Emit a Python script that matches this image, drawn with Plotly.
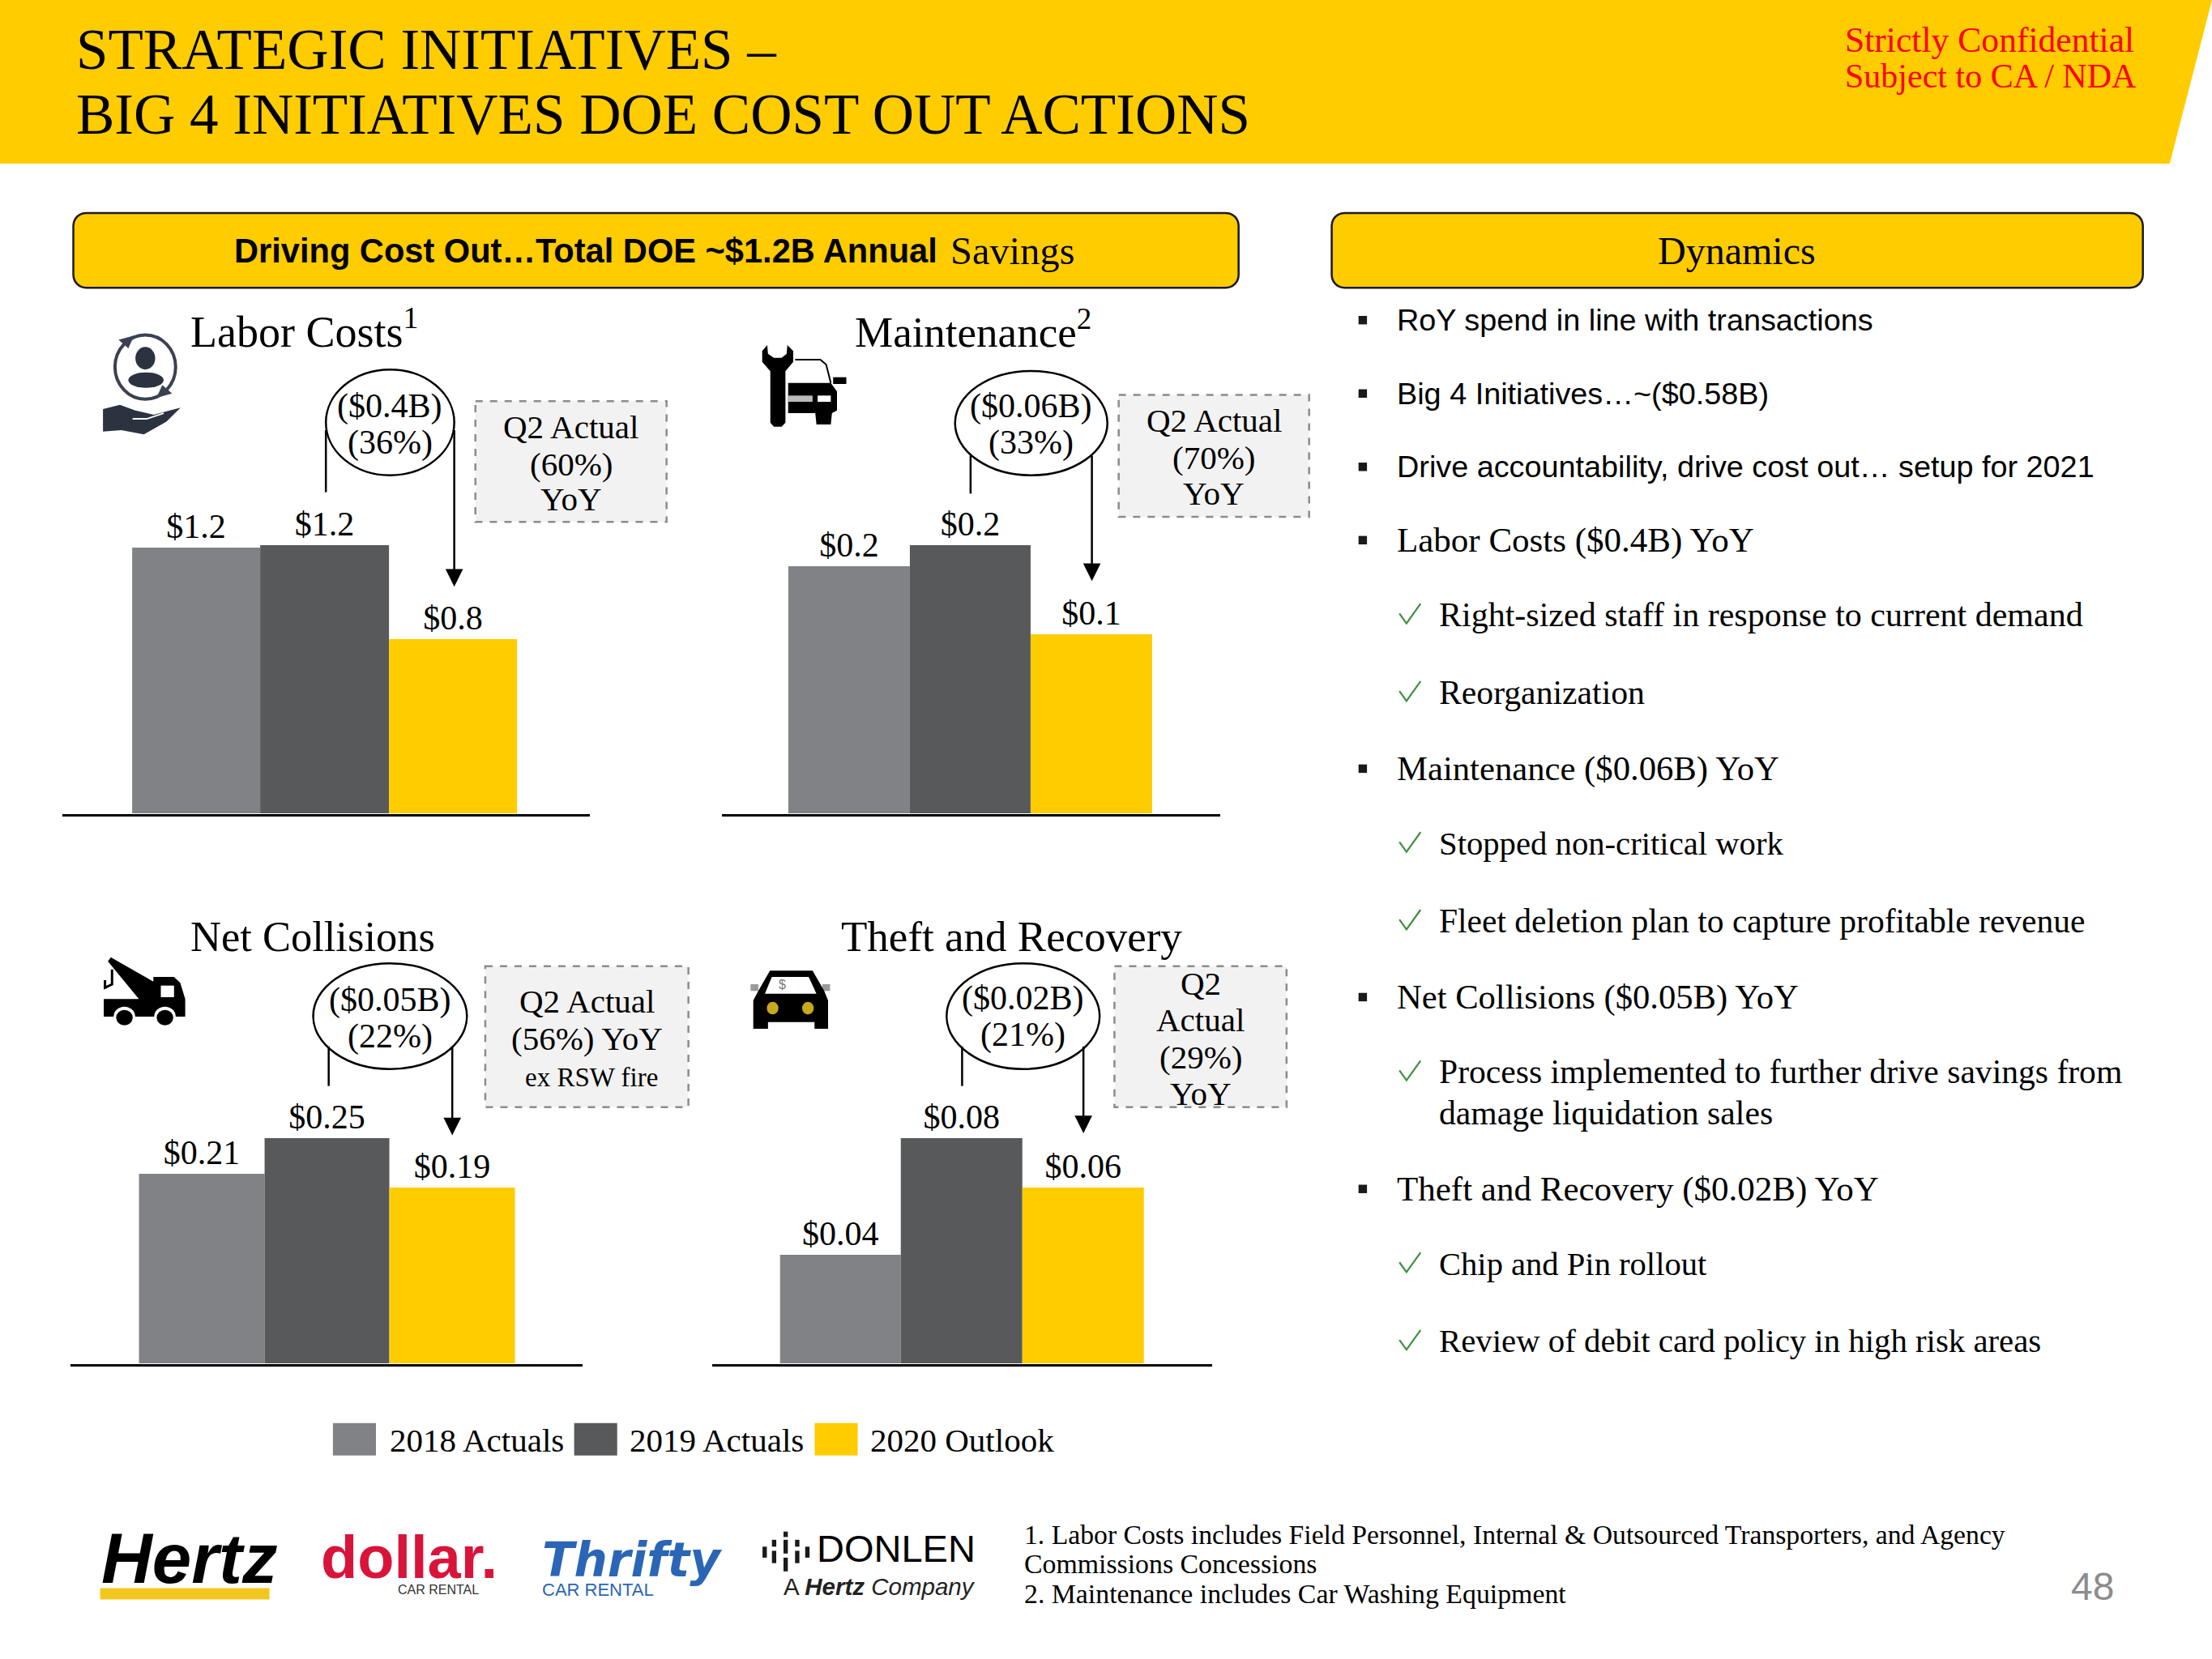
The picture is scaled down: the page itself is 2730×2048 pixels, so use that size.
import math
import plotly.graph_objects as go

W, H = 2730, 2048
S = W / 1568
SERIF = "Liberation Serif"
SANS = "Liberation Sans"
YEL = "#FFCC00"

series_names = ["2018 Actuals", "2019 Actuals", "2020 Outlook"]
series_colors = ["#818285", "#58595B", "#FFCC00"]
labor_values = [1.19, 1.2, 0.78]
maintenance_values = [0.175, 0.19, 0.127]
collision_values = [0.21, 0.25, 0.195]
theft_values = [0.0385, 0.08, 0.0625]
labor_labels = ["$1.2", "$1.2", "$0.8"]
maintenance_labels = ["$0.2", "$0.2", "$0.1"]
collision_labels = ["$0.21", "$0.25", "$0.19"]
theft_labels = ["$0.04", "$0.08", "$0.06"]

def X(v): return v * S / W
def Y(v): return 1 - v * S / H

# panel geometry in view units: axis left/right, first bar left, bar width, baseline, px per unit
panels = [
    (labor_values, labor_labels, 44, 418, 94, 91, 577, 190 / 1.2),
    (maintenance_values, maintenance_labels, 512, 865, 559, 86, 577, 190 / 0.19),
    (collision_values, collision_labels, 50, 413, 99, 88.7, 967, 160 / 0.25),
    (theft_values, theft_labels, 505, 859, 553, 86, 967, 160 / 0.08),
]

fig = go.Figure()
shapes, anns = [], []

def rect(x0, y0, x1, y1, fill, line=None, lw=0, dash=None, layer="below"):
    shapes.append(dict(type="rect", xref="paper", yref="paper", x0=X(x0), x1=X(x1), y0=Y(y0), y1=Y(y1),
                       fillcolor=fill, line=dict(color=line or fill, width=lw, dash=dash), layer=layer))

def poly(pts, fill, close=True, line=None, lw=0):
    d = "M" + " L".join(f"{X(a):.5f},{Y(b):.5f}" for a, b in pts) + (" Z" if close else "")
    shapes.append(dict(type="path", xref="paper", yref="paper", path=d, fillcolor=fill if close else "rgba(0,0,0,0)",
                       line=dict(color=line or fill, width=lw), layer="above"))

def ell(x0, y0, x1, y1, fill="rgba(0,0,0,0)", line="#000000", lw=2.5):
    shapes.append(dict(type="circle", xref="paper", yref="paper", x0=X(x0), x1=X(x1), y0=Y(y0), y1=Y(y1),
                       fillcolor=fill, line=dict(color=line, width=lw), layer="above"))

def seg(x0, y0, x1, y1, color="#000000", lw=2.5):
    shapes.append(dict(type="line", xref="paper", yref="paper", x0=X(x0), x1=X(x1), y0=Y(y0), y1=Y(y1),
                       line=dict(color=color, width=lw), layer="above"))

def txt(x, y, s, size, anchor="left", font=SERIF, color="#000000"):
    anns.append(dict(xref="paper", yref="paper", x=X(x), y=Y(y), text=s, showarrow=False, xanchor=anchor,
                     yanchor="middle", align=anchor if anchor != "middle" else "center",
                     font=dict(family=font, size=size, color=color), borderpad=0, borderwidth=0))

def lines(x, ys, strs, size):
    for y, s in zip(ys, strs):
        txt(x, y, s, size, "center")

def round_rect(x0, y0, x1, y1, r, fill, line):
    n = 6
    pts = []
    for cx, cy, a0 in [(x1 - r, y0 + r, -90), (x1 - r, y1 - r, 0), (x0 + r, y1 - r, 90), (x0 + r, y0 + r, 180)]:
        for i in range(n + 1):
            a = math.radians(a0 + 90 * i / n)
            pts.append((cx + r * math.cos(a), cy + r * math.sin(a)))
    d = "M" + " L".join(f"{X(a):.5f},{Y(b):.5f}" for a, b in pts) + " Z"
    shapes.append(dict(type="path", xref="paper", yref="paper", path=d, fillcolor=fill,
                       line=dict(color=line, width=2.5), layer="below"))

# bars
for i, (vals, labs, ax0, ax1, b0, bw, base, ppu) in enumerate(panels):
    n = "" if i == 0 else str(i + 1)
    top = max(vals) * 1.3
    dom_y = [1 - base * S / H, 1 - (base - top * ppu) * S / H]
    fig.add_trace(go.Bar(x=series_names, y=vals, text=labs, textposition="outside", cliponaxis=False,
                         textfont=dict(family=SERIF, size=42, color="#000000"),
                         marker=dict(color=series_colors, line=dict(width=5, color="rgba(0,0,0,0)")), width=1,
                         showlegend=False, xaxis="x" + n, yaxis="y" + n))
    lo = -0.5 - (b0 - ax0) / bw
    hi = 2.5 + (ax1 - (b0 + 3 * bw)) / bw
    fig.update_layout({
        "xaxis" + n: dict(domain=[X(ax0), X(ax1)], range=[lo, hi], type="category", showticklabels=False, ticks="",
                          showgrid=False, zeroline=False, showline=True, linecolor="#000000", linewidth=2.5,
                          anchor="y" + n, categoryorder="array", categoryarray=series_names),
        "yaxis" + n: dict(domain=dom_y, range=[0, top], visible=False, anchor="x" + n),
    })

# header
poly([(0, 0), (1568, 0), (1538, 116), (0, 116)], YEL)
txt(54, 35, "STRATEGIC INITIATIVES –", 71)
txt(54, 81, "BIG 4 INITIATIVES DOE COST OUT ACTIONS", 71)
txt(1308, 28, "Strictly Confidential", 43.6, color="#FF0000")
txt(1308, 54, "Subject to CA / NDA", 42, color="#FF0000")

# banners
round_rect(52, 151, 878, 204, 9, YEL, "#1a1a1a")
round_rect(944, 151, 1519, 204, 9, YEL, "#1a1a1a")
txt(415, 178, "<b>Driving Cost Out…Total DOE ~$1.2B Annual</b>", 41.6, "center", font=SANS)
txt(674, 178, "Savings", 48.5)
txt(1231, 178, "Dynamics", 48, "center")

# panel titles
txt(135, 233, "Labor Costs<sup>1</sup>", 54)
txt(606, 233, "Maintenance<sup>2</sup>", 53)
txt(135, 664, "Net Collisions", 52.5)
txt(596, 664, "Theft and Recovery", 53)

# ovals, lines and arrows: oval box, text lines, left line x, y range, arrow x, start and tip
callouts = [
    (231, 322, 262, 337, ["($0.4B)", "(36%)"], [288, 314], 231, 305, 349, 322, 305, 416),
    (677, 785, 263, 337, ["($0.06B)", "(33%)"], [288, 314], 688, 323, 350, 774, 323, 412),
    (222, 331, 683, 758, ["($0.05B)", "(22%)"], [709, 735], 233, 742, 770, 320.6, 742, 805),
    (671, 779.5, 683, 758, ["($0.02B)", "(21%)"], [708, 734], 682, 742, 770, 768, 742, 803.5),
]
for x0, x1, y0, y1, strs, ys, lx, ly0, ly1, ax, ay0, ay1 in callouts:
    ell(x0, y0, x1, y1)
    seg(lx, ly0, lx, ly1)
    seg(ax, ay0, ax, ay1 - 10)
    poly([(ax - 6.2, ay1 - 12.5), (ax + 6.2, ay1 - 12.5), (ax, ay1)], "#000000")
    lines((x0 + x1) / 2, ys, strs, 42)

# dashed boxes
boxes = [
    (337, 284.5, 472.5, 370, ["Q2 Actual", "(60%)", "YoY"], [302.5, 329, 354]),
    (793, 280, 928, 366.5, ["Q2 Actual", "(70%)", "YoY"], [298, 324.5, 350]),
    (344, 685, 488, 785, ["Q2 Actual", "(56%) YoY"], [710, 736.5]),
    (790, 685, 912, 785, ["Q2", "Actual", "(29%)", "YoY"], [697, 723, 749.5, 775.5]),
]
for x0, y0, x1, y1, strs, ys in boxes:
    rect(x0, y0, x1, y1, "#F2F2F2", "#8c8c8c", 2.5, "dash")
    lines((x0 + x1) / 2, ys, strs, 41)
txt(419, 764, "ex RSW fire", 33, "center")

# legend
for lx, c, nm, tx in zip([236, 407, 577.5], series_colors, series_names, [276, 446, 617]):
    rect(lx, 1009, lx + 30.5, 1032, c)
    txt(tx, 1021, nm, 41)

# right column
bullets = [
    (227, "RoY spend in line with transactions", SANS, 0, 37.8),
    (279, "Big 4 Initiatives…~($0.58B)", SANS, 0, 37.8),
    (331, "Drive accountability, drive cost out… setup for 2021", SANS, 0, 37.8),
    (383, "Labor Costs ($0.4B) YoY", SERIF, 0, 43),
    (436, "Right-sized staff in response to current demand", SERIF, 1, 42),
    (491, "Reorganization", SERIF, 1, 41.7),
    (545, "Maintenance ($0.06B) YoY", SERIF, 0, 42.7),
    (598, "Stopped non-critical work", SERIF, 1, 40.7),
    (653, "Fleet deletion plan to capture profitable revenue", SERIF, 1, 41.5),
    (707, "Net Collisions ($0.05B) YoY", SERIF, 0, 42.6),
    (760, "Process implemented to further drive savings from", SERIF, 1, 41.6),
    (843, "Theft and Recovery ($0.02B) YoY", SERIF, 0, 43),
    (896, "Chip and Pin rollout", SERIF, 1, 40.6),
    (951, "Review of debit card policy in high risk areas", SERIF, 1, 40.8),
]
for y, s, f, lvl, size in bullets:
    if lvl == 0:
        rect(963, y - 3, 969, y + 3, "#1a1a1a", layer="above")
        txt(990, y, s, size, font=f)
    else:
        poly([(992, y - 1), (997, y + 6), (1007, y - 8)], "#3F8F3F", close=False, line="#3F8F3F", lw=2.2)
        txt(1020, y, s, size)
txt(1020, 789, "damage liquidation sales", 41.7)

# footnotes
txt(726, 1088, "1. Labor Costs includes Field Personnel, Internal & Outsourced Transporters, and Agency", 33.7)
txt(726, 1109, "Commissions Concessions", 33.8)
txt(726, 1130, "2. Maintenance includes Car Washing Equipment", 33.8)
txt(1483, 1125, "48", 48, "center", font=SANS, color="#8c8c8c")

# icon helper: outline points read in crop coordinates
def crop(pts, ox, oy, fx, fy):
    return [((ox + a / fx) / S, (oy + b / fy) / S) for a, b in pts]

# labor icon
NAVY = "#2B3240"
ell(81.5, 237.5, 124.5, 283, line="#3A4150", lw=4)
poly([(84, 241), (95, 238), (91, 247)], "#3A4150")
poly([(122, 279), (111, 282), (115, 273)], "#3A4150")
ell(96, 246, 110, 262, fill=NAVY, line=NAVY, lw=0)
ell(91, 264, 116, 275, fill=NAVY, line=NAVY, lw=0)
poly([(73, 290), (85, 287), (96, 291), (109, 294), (128, 289), (118, 299), (102, 308), (86, 305), (73, 306)], NAVY)
poly([(94, 297), (104, 297), (116, 293)], NAVY, close=False, line="#FFFFFF", lw=2)

# maintenance icon
m = (900, 400, 2.09, 3)
poly(crop([(98, 78), (85, 100), (85, 140), (106, 175), (106, 365), (115, 380), (135, 380), (145, 365), (145, 175),
           (165, 140), (165, 100), (150, 78), (148, 110), (135, 125), (115, 125), (100, 110)], *m), "#000000")
poly(crop([(152, 218), (262, 218), (278, 250), (278, 320), (265, 330), (262, 372), (225, 372), (222, 330), (152, 330)], *m), "#000000")
poly(crop([(152, 265), (215, 265), (215, 288), (152, 288)], *m), "#BBBBBB")
poly(crop([(228, 265), (262, 265), (262, 288), (228, 288)], *m), "#FFFFFF")
poly(crop([(268, 197), (302, 197), (302, 222), (268, 222)], *m), "#000000")
poly(crop([(170, 132), (235, 132), (250, 150), (262, 218)], *m), "#000000", close=False, line="#000000", lw=2)

# tow truck icon
t = (100, 1120, 1.96, 3)
poly(crop([(55, 340), (140, 340), (65, 200), (72, 185), (175, 275), (175, 258), (225, 258), (240, 280), (252, 340),
           (252, 405), (55, 405)], *t), "#000000")
poly(crop([(193, 290), (225, 290), (225, 333), (193, 333)], *t), "#FFFFFF")
poly(crop([(75, 230), (75, 285), (58, 298), (58, 270)], *t), "#000000", close=False, line="#000000", lw=3)
for wx in (105, 203):
    c = crop([(wx - 26, 368), (wx + 26, 440)], *t)
    ell(c[0][0], c[0][1], c[1][0], c[1][1], fill="#FFFFFF", line="#FFFFFF", lw=0)
    c = crop([(wx - 20, 380), (wx + 20, 437)], *t)
    ell(c[0][0], c[0][1], c[1][0], c[1][1], fill="#000000", line="#000000", lw=0)

# car icon
k = (900, 1120, 2.09, 3)
poly(crop([(55, 285), (75, 285), (75, 310), (55, 310)], *k), "#9A9A9A")
poly(crop([(240, 285), (260, 285), (260, 310), (240, 310)], *k), "#9A9A9A")
poly(crop([(105, 235), (215, 235), (245, 310), (255, 345), (255, 450), (220, 450), (220, 425), (100, 425), (100, 450),
           (62, 450), (62, 345), (75, 310)], *k), "#000000")
poly(crop([(110, 258), (205, 258), (225, 320), (92, 320)], *k), "#FFFFFF")
for hx in (112, 203):
    c = crop([(hx - 15, 350), (hx + 15, 397)], *k)
    ell(c[0][0], c[0][1], c[1][0], c[1][1], fill="#C8A81E", line="#C8A81E", lw=0)
c = crop([(137, 285)], *k)[0]
txt(c[0], c[1], "$", 16, "center", font=SANS, color="#777777")

# logos as text
txt(134.5, 1105, "<b><i>Hertz</i></b>", 87, "center", font=SANS)
rect(71, 1126, 191, 1134, "#F2C81E")
txt(290, 1104, "<b>dollar.</b>", 74, "center", font=SANS, color="#D9143A")
txt(310.5, 1127, "CAR RENTAL", 16, "center", font=SANS, color="#333333")
txt(448, 1106, "<b><i>Thrifty</i></b>", 58, "center", font="DejaVu Sans", color="#2A66B5")
txt(424, 1127, "CAR RENTAL", 22, "center", font=SANS, color="#2A66B5")
txt(635, 1098, "DONLEN", 47, "center", font=SANS)
txt(623.5, 1125, "A <b><i>Hertz</i></b> <i>Company</i>", 29.5, "center", font=SANS, color="#222222")
d = (0, 1750, 1.12, 2.95)
for cx, spans in [(1086, [(415, 435), (445, 495), (510, 560)]), (1070, [(445, 470), (485, 530)]),
                  (1102, [(445, 470), (485, 530)]), (1057, [(470, 510)]), (1116, [(470, 510)])]:
    for a, b in spans:
        c = crop([(cx - 3, a), (cx + 3, b)], *d)
        rect(c[0][0], c[0][1], c[1][0], c[1][1], "#1a1a1a", layer="above")

fig.update_layout(width=W, height=H, margin=dict(l=0, r=0, t=0, b=0), autosize=False,
                  paper_bgcolor="#FFFFFF", plot_bgcolor="rgba(0,0,0,0)", bargap=0,
                  showlegend=False, shapes=shapes, annotations=anns)
fig.write_html("out.html", config={"displayModeBar": False},
               post_script="document.body.style.margin='0';document.body.style.padding='0';")
